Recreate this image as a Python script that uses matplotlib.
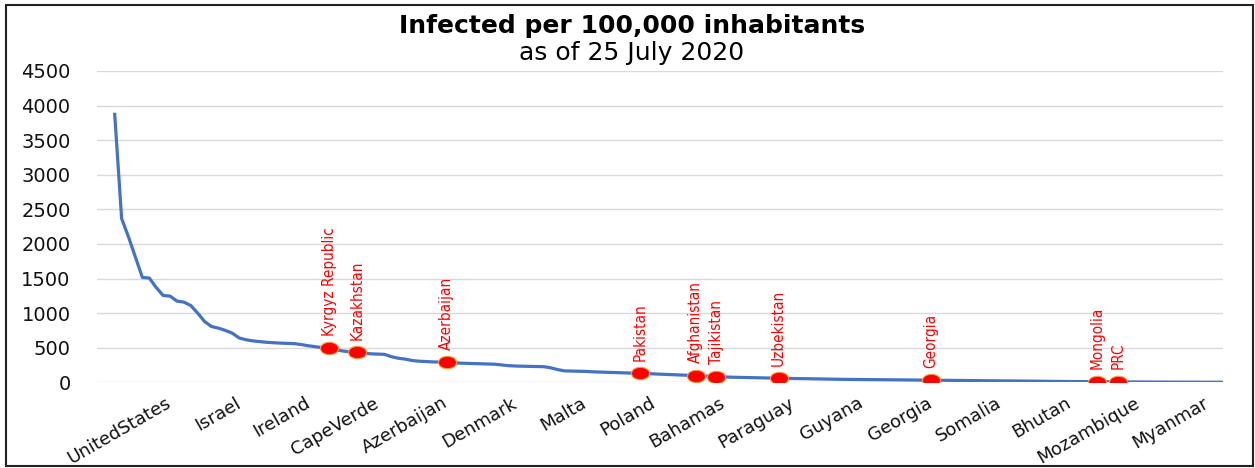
import matplotlib
matplotlib.use('Agg')
import matplotlib.pyplot as plt
from matplotlib.path import Path
from matplotlib.patches import Rectangle

# Infected per 100,000 inhabitants, countries sorted from highest to lowest
values = [
    3874, 2367, 2100, 1810, 1516, 1507, 1370, 1255, 1246, 1174,
    1159, 1110, 1000, 878, 806, 783, 750, 710, 640, 615,
    598, 588, 578, 572, 566, 562, 559, 545, 528, 515,
    500, 493, 470, 452, 440, 435, 420, 412, 408, 404,
    370, 348, 335, 315, 305, 300, 295, 292, 290, 282,
    277, 274, 270, 267, 264, 261, 250, 240, 235, 232,
    230, 228, 226, 210, 185, 165, 162, 160, 158, 152,
    148, 145, 142, 139, 136, 133, 130, 126, 121, 117,
    113, 110, 106, 102, 98, 93, 88, 82, 78, 74,
    72, 70, 68, 66, 63, 61, 58, 56, 55, 54,
    52, 50, 49, 47, 45, 43, 42, 40, 39, 38,
    37, 36, 35, 34, 33, 32, 31, 30, 29, 28,
    27, 26, 25, 24, 23, 22, 21, 20, 19.5, 19,
    18, 17, 16, 15.5, 15, 14, 13, 12, 11.5, 11,
    10, 9.5, 9, 8, 7, 6, 5.5, 5, 4.5, 4,
    3.5, 3, 2.8, 2.5, 2.2, 2, 1.6, 1.3, 1, 0.8,
    0.6,
]

# category labels shown on the x axis (every 10th country)
tick_labels = ['UnitedStates', 'Israel', 'Ireland', 'CapeVerde', 'Azerbaijan',
               'Denmark', 'Malta', 'Poland', 'Bahamas', 'Paraguay', 'Guyana',
               'Georgia', 'Somalia', 'Bhutan', 'Mozambique', 'Myanmar']
tick_pos = [8, 18, 28, 38, 48, 58, 68, 78, 88, 98, 108, 118, 128, 138, 148, 158]

# highlighted countries and their rank position
marked_names = ['Kyrgyz Republic', 'Kazakhstan', 'Azerbaijan', 'Pakistan',
                'Afghanistan', 'Tajikistan', 'Uzbekistan', 'Georgia',
                'Mongolia', 'PRC']
marked_pos = [31, 35, 48, 76, 84, 87, 96, 118, 142, 145]

W, H = 1255, 468
fig = plt.figure(figsize=(W / 100, H / 100), dpi=100)
ax = fig.add_axes([97 / W, 1 - 382.3 / H, 1126 / W, (382.3 - 71) / H])

x = list(range(len(values)))
ax.plot(x, values, color='#4472C4', lw=2.3, solid_joinstyle='round', zorder=3)

# elliptic markers (the original chart is stretched horizontally)
circ = Path.unit_circle()
ell = Path(circ.vertices * [1.45, 1.0], circ.codes)
mx = marked_pos
my = [values[i] for i in marked_pos]
ax.plot(mx, my, ls='none', marker=ell, ms=13, mfc='#FF0000',
        mec='#F5A040', mew=0.8, zorder=4)

for name, px, py in zip(marked_names, mx, my):
    ax.annotate(name, (px, py), xytext=(0, 9), textcoords='offset points',
                rotation=90, ha='center', va='bottom', color='#FF0000',
                family='DejaVu Sans', fontstretch='condensed', fontsize=11)

ax.set_xlim(-2.56, 160.23)
ax.set_ylim(0, 4500)
ax.set_yticks(range(0, 4501, 500))
ax.grid(axis='y', color='#D9D9D9', lw=1)
ax.set_axisbelow(True)
for s in ax.spines.values():
    s.set_visible(False)
ax.tick_params(axis='y', length=0, pad=19, labelsize=14, labelcolor='#111111')
ax.tick_params(axis='x', length=0, pad=14)
ax.set_xticks(tick_pos)
ax.set_xticklabels(tick_labels, rotation=30, ha='right', va='center',
                   rotation_mode='anchor', fontsize=13, color='#111111')

fig.text(0.5036, 1 - 26 / H, 'Infected per 100,000 inhabitants', ha='center',
         va='center', fontsize=18, fontweight='bold')
fig.text(0.5036, 1 - 53 / H, 'as of 25 July 2020', ha='center', va='center',
         fontsize=18)

# outer frame
fig.patches.append(Rectangle((6 / W, 2 / H), 1 - 8 / W, 1 - 7 / H,
                             transform=fig.transFigure, fill=False,
                             ec='#222222', lw=1.5))

fig.savefig('out.png', dpi=100)
